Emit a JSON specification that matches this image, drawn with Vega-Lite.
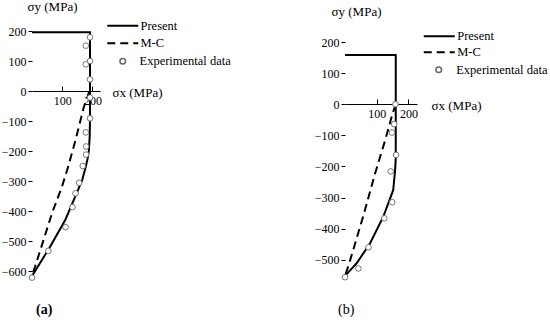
{
  "$schema": "https://vega.github.io/schema/vega-lite/v6.json",
  "background": "white",
  "padding": {"left": 1, "top": 0, "right": 0, "bottom": 0},
  "bounds": "flush",
  "spacing": 245,
  "config": {
    "view": {"stroke": null},
    "font": "Liberation Serif, DejaVu Serif, Times New Roman, serif",
    "axis": {
      "labelFont": "Liberation Serif, DejaVu Serif, Times New Roman, serif", "titleFont": "Liberation Serif, DejaVu Serif, Times New Roman, serif",
      "labelFontSize": 12, "titleFontSize": 13, "titleFontWeight": "normal",
      "labelColor": "black", "titleColor": "black", "domainColor": "black", "tickColor": "black",
      "grid": false, "domainWidth": 1, "tickWidth": 1
    },
    "legend": {"labelFont": "Liberation Serif, DejaVu Serif, Times New Roman, serif", "labelFontSize": 12.5, "labelColor": "black", "orient": "none"},
    "title": {"font": "Liberation Serif, DejaVu Serif, Times New Roman, serif"}
  },
  "datasets": {
    "a_lines": [
      {"series": "Present", "i": 1, "sx": 0, "sy": 196},
      {"series": "Present", "i": 2, "sx": 192, "sy": 196},
      {"series": "Present", "i": 3, "sx": 192, "sy": -80},
      {"series": "Present", "i": 4, "sx": 191, "sy": -150},
      {"series": "Present", "i": 5, "sx": 188, "sy": -200},
      {"series": "Present", "i": 6, "sx": 184, "sy": -225},
      {"series": "Present", "i": 7, "sx": 178, "sy": -252},
      {"series": "Present", "i": 8, "sx": 166, "sy": -297},
      {"series": "Present", "i": 9, "sx": 143, "sy": -352},
      {"series": "Present", "i": 10, "sx": 110, "sy": -430},
      {"series": "Present", "i": 11, "sx": 60, "sy": -519},
      {"series": "Present", "i": 12, "sx": 0, "sy": -617},
      {"series": "M-C", "i": 1, "sx": 190, "sy": 0},
      {"series": "M-C", "i": 2, "sx": 171, "sy": -55},
      {"series": "M-C", "i": 3, "sx": 154, "sy": -124},
      {"series": "M-C", "i": 4, "sx": 138, "sy": -186},
      {"series": "M-C", "i": 5, "sx": 118, "sy": -258},
      {"series": "M-C", "i": 6, "sx": 99, "sy": -319},
      {"series": "M-C", "i": 7, "sx": 66, "sy": -408},
      {"series": "M-C", "i": 8, "sx": 38, "sy": -497},
      {"series": "M-C", "i": 9, "sx": 10, "sy": -586},
      {"series": "M-C", "i": 10, "sx": 0, "sy": -615}
    ],
    "a_pts": [
      {"series": "Experimental data", "sx": 192, "sy": 179},
      {"series": "Experimental data", "sx": 178, "sy": 151},
      {"series": "Experimental data", "sx": 192, "sy": 100},
      {"series": "Experimental data", "sx": 178, "sy": 89},
      {"series": "Experimental data", "sx": 192, "sy": 39},
      {"series": "Experimental data", "sx": 192, "sy": -22},
      {"series": "Experimental data", "sx": 192, "sy": -91},
      {"series": "Experimental data", "sx": 178, "sy": -138},
      {"series": "Experimental data", "sx": 179, "sy": -185},
      {"series": "Experimental data", "sx": 179, "sy": -212},
      {"series": "Experimental data", "sx": 168, "sy": -250},
      {"series": "Experimental data", "sx": 156, "sy": -306},
      {"series": "Experimental data", "sx": 144, "sy": -341},
      {"series": "Experimental data", "sx": 134, "sy": -387},
      {"series": "Experimental data", "sx": 111, "sy": -454},
      {"series": "Experimental data", "sx": 54, "sy": -533},
      {"series": "Experimental data", "sx": 0, "sy": -622}
    ],
    "b_lines": [
      {"series": "Present", "i": 1, "sx": 0, "sy": 158},
      {"series": "Present", "i": 2, "sx": 160, "sy": 158},
      {"series": "Present", "i": 3, "sx": 160, "sy": -175},
      {"series": "Present", "i": 4, "sx": 158, "sy": -211},
      {"series": "Present", "i": 5, "sx": 152, "sy": -276},
      {"series": "Present", "i": 6, "sx": 121, "sy": -361},
      {"series": "Present", "i": 7, "sx": 79, "sy": -447},
      {"series": "Present", "i": 8, "sx": 37, "sy": -511},
      {"series": "Present", "i": 9, "sx": 0, "sy": -552},
      {"series": "M-C", "i": 1, "sx": 160, "sy": 0},
      {"series": "M-C", "i": 2, "sx": 150, "sy": -30},
      {"series": "M-C", "i": 3, "sx": 127, "sy": -115},
      {"series": "M-C", "i": 4, "sx": 114, "sy": -158},
      {"series": "M-C", "i": 5, "sx": 95, "sy": -222},
      {"series": "M-C", "i": 6, "sx": 58, "sy": -358},
      {"series": "M-C", "i": 7, "sx": 26, "sy": -468},
      {"series": "M-C", "i": 8, "sx": 10, "sy": -522},
      {"series": "M-C", "i": 9, "sx": 0, "sy": -552}
    ],
    "b_pts": [
      {"series": "Experimental data", "sx": 159, "sy": 0},
      {"series": "Experimental data", "sx": 155, "sy": -64},
      {"series": "Experimental data", "sx": 148, "sy": -91},
      {"series": "Experimental data", "sx": 161, "sy": -163},
      {"series": "Experimental data", "sx": 144, "sy": -216},
      {"series": "Experimental data", "sx": 149, "sy": -315},
      {"series": "Experimental data", "sx": 124, "sy": -367},
      {"series": "Experimental data", "sx": 74, "sy": -460},
      {"series": "Experimental data", "sx": 42, "sy": -528},
      {"series": "Experimental data", "sx": 0, "sy": -556}
    ]
  },
  "resolve": {"scale": {"strokeDash": "independent", "shape": "independent", "x": "independent", "y": "independent"}},
  "hconcat": [
    {
      "width": 68,
      "height": 270,
      "title": {"text": "(a)", "orient": "bottom", "anchor": "start", "frame": "group", "offset": 14, "dx": 4, "fontSize": 14, "fontWeight": "bold", "color": "black"},
      "encoding": {
        "x": {"field": "sx", "type": "quantitative", "scale": {"domain": [0, 225], "nice": false, "zero": false},
          "axis": {"orient": "bottom", "offset": -198, "values": [100, 200], "tickSize": -5, "labelPadding": 9,
            "title": "σx (MPa)", "titleX": 80, "titleY": 1, "titleAlign": "left", "titleBaseline": "middle"}},
        "y": {"field": "sy", "type": "quantitative", "scale": {"domain": [-660, 240], "nice": false, "zero": false},
          "axis": {"values": [-600, -500, -400, -300, -200, -100, 0, 100, 200], "tickSize": 4, "labelPadding": 2, "domain": false,
            "title": "σy (MPa)", "titleAngle": 0, "titleX": -5, "titleY": -12.5, "titleAlign": "left", "titleBaseline": "middle"}}
      },
      "layer": [
        {
          "mark": {"type": "rule", "color": "black", "strokeWidth": 1},
          "encoding": {"x": {"datum": 0}, "y": {"datum": -660}, "y2": {"datum": 240}}
        },
        {
          "data": {"name": "a_lines"},
          "mark": {"type": "line", "color": "black", "strokeWidth": 2, "clip": false},
          "encoding": {
            "order": {"field": "i", "type": "quantitative"},
            "strokeDash": {"field": "series", "type": "nominal",
              "scale": {"domain": ["Present", "M-C"], "range": [[1, 0], [8, 5]]},
              "legend": {"title": null, "legendX": 84.5, "legendY": 0.5, "symbolType": "M-3.1,0H3.1", "symbolSize": 100,
                "symbolStrokeWidth": 2, "symbolStrokeColor": "black", "labelOffset": 11.5, "rowPadding": 4.5}}
          }
        },
        {
          "data": {"name": "a_pts"},
          "mark": {"type": "point", "filled": false, "color": "#666666", "fill": "white", "strokeWidth": 0.9, "opacity": 1, "size": 32, "clip": false},
          "encoding": {
            "shape": {"field": "series", "type": "nominal", "scale": {"range": ["circle"]},
              "legend": {"title": null, "legendX": 84.5, "legendY": 36, "symbolSize": 32, "labelOffset": 10.5,
                "encode": {"symbols": {"update": {"stroke": {"value": "#666666"}, "fill": {"value": "white"}, "strokeWidth": {"value": 0.9}, "opacity": {"value": 1}, "size": {"value": 32}, "shape": {"value": "circle"}}}}}}
          }
        }
      ]
    },
    {
      "width": 72,
      "height": 270,
      "title": {"text": "(b)", "orient": "bottom", "anchor": "start", "frame": "group", "offset": 14, "dx": -7, "fontSize": 14, "fontWeight": "normal", "color": "black"},
      "encoding": {
        "x": {"field": "sx", "type": "quantitative", "scale": {"domain": [0, 227], "nice": false, "zero": false},
          "axis": {"orient": "bottom", "offset": -185, "values": [100, 200], "tickSize": -5, "labelPadding": 9,
            "title": "σx (MPa)", "titleX": 86, "titleY": 1, "titleAlign": "left", "titleBaseline": "middle"}},
        "y": {"field": "sy", "type": "quantitative", "scale": {"domain": [-594, 274], "nice": false, "zero": false},
          "axis": {"values": [-500, -400, -300, -200, -100, 0, 100, 200], "tickSize": 4, "labelPadding": 2, "domain": false,
            "title": "σy (MPa)", "titleAngle": 0, "titleX": -14, "titleY": -8, "titleAlign": "left", "titleBaseline": "middle"}}
      },
      "layer": [
        {
          "mark": {"type": "rule", "color": "black", "strokeWidth": 1},
          "encoding": {"x": {"datum": 0}, "y": {"datum": -583}, "y2": {"datum": 237}}
        },
        {
          "data": {"name": "b_lines"},
          "mark": {"type": "line", "color": "black", "strokeWidth": 2, "clip": false},
          "encoding": {
            "order": {"field": "i", "type": "quantitative"},
            "strokeDash": {"field": "series", "type": "nominal",
              "scale": {"domain": ["Present", "M-C"], "range": [[1, 0], [8, 5]]},
              "legend": {"title": null, "legendX": 88, "legendY": 11, "symbolType": "M-3.1,0H3.1", "symbolSize": 100,
                "symbolStrokeWidth": 2, "symbolStrokeColor": "black", "labelOffset": 11.7, "rowPadding": 3}}
          }
        },
        {
          "data": {"name": "b_pts"},
          "mark": {"type": "point", "filled": false, "color": "#666666", "fill": "white", "strokeWidth": 0.9, "opacity": 1, "size": 32, "clip": false},
          "encoding": {
            "shape": {"field": "series", "type": "nominal", "scale": {"range": ["circle"]},
              "legend": {"title": null, "legendX": 87.5, "legendY": 44.5, "symbolSize": 32, "labelOffset": 11.2,
                "encode": {"symbols": {"update": {"stroke": {"value": "#666666"}, "fill": {"value": "white"}, "strokeWidth": {"value": 0.9}, "opacity": {"value": 1}, "size": {"value": 32}, "shape": {"value": "circle"}}}}}}
          }
        }
      ]
    }
  ]
}
